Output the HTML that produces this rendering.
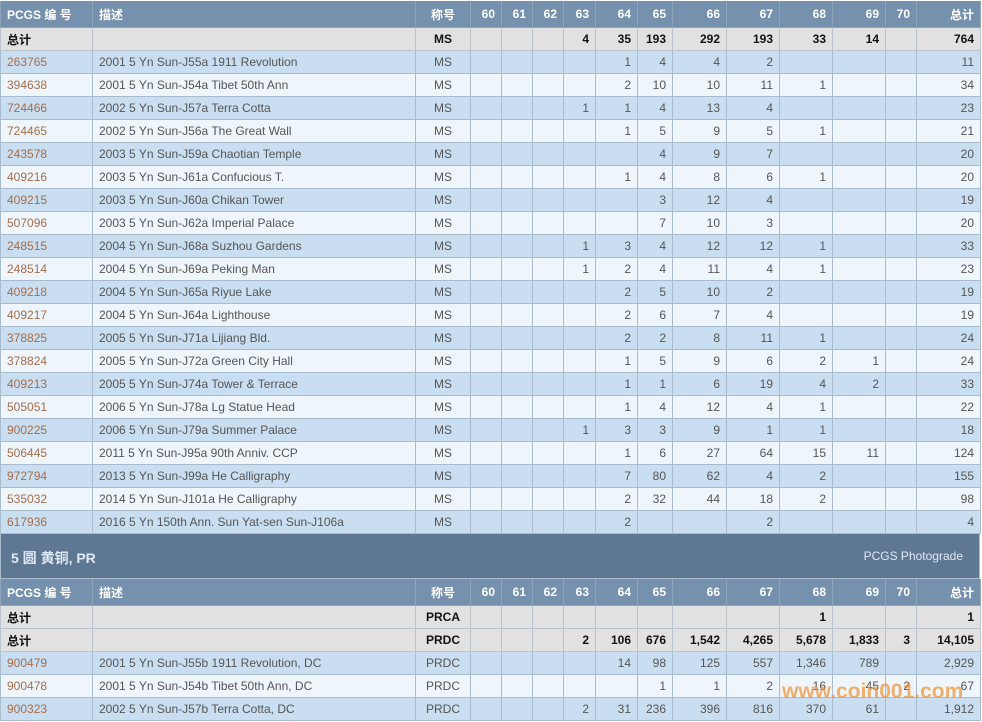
<!DOCTYPE html>
<html><head><meta charset="utf-8"><style>
body{margin:0;width:982px;height:722px;overflow:hidden;background:#fff;font-family:"Liberation Sans","Noto Sans CJK SC",sans-serif;font-size:12px;color:#555}
table{border-collapse:collapse;table-layout:fixed;width:980px;position:absolute;left:0}
td{border:1px solid #a9bccd;padding:0 6px;height:22px;text-align:right;white-space:nowrap;overflow:hidden}
td:nth-child(1),td:nth-child(2){text-align:left}
td:nth-child(3){text-align:center}
tr.h td{background:#7591ad;color:#fff;font-weight:bold;height:26px;border-color:#8ea5bc;border-top:none}
tr.t td{background:#e1e1e1;color:#111;font-weight:bold;border-color:#b9c4ce}
tr.o td{background:#c9def1}
tr.e td{background:#eef5fb}
td.l{color:#a36e4c}
.sec{position:absolute;left:0;top:533px;width:980px;height:46px;background:#5e7793;border:1px solid #a9bccd;box-sizing:border-box}
.sec .a{position:absolute;left:10px;top:14px;color:#dfe9f4;font-weight:bold;font-size:14px}
.sec .b{position:absolute;right:16px;top:15px;color:#dfe9f4;font-size:12px}
.wm{position:absolute;left:782px;top:680px;font-size:21px;font-weight:bold;color:rgba(240,150,60,.75);letter-spacing:0}
</style></head><body>
<table style="top:1px">
<colgroup><col style="width:92px"><col style="width:323px"><col style="width:55px"><col style="width:31px"><col style="width:31px"><col style="width:31px"><col style="width:32px"><col style="width:42px"><col style="width:35px"><col style="width:54px"><col style="width:53px"><col style="width:53px"><col style="width:53px"><col style="width:31px"><col style="width:64px"></colgroup>
<tr class="h"><td>PCGS 编 号</td><td>描述</td><td>称号</td><td>60</td><td>61</td><td>62</td><td>63</td><td>64</td><td>65</td><td>66</td><td>67</td><td>68</td><td>69</td><td>70</td><td>总计</td></tr>
<tr class="t"><td>总计</td><td></td><td>MS</td><td></td><td></td><td></td><td>4</td><td>35</td><td>193</td><td>292</td><td>193</td><td>33</td><td>14</td><td></td><td>764</td></tr>
<tr class="o"><td class="l">263765</td><td>2001 5 Yn Sun-J55a 1911 Revolution</td><td>MS</td><td></td><td></td><td></td><td></td><td>1</td><td>4</td><td>4</td><td>2</td><td></td><td></td><td></td><td>11</td></tr>
<tr class="e"><td class="l">394638</td><td>2001 5 Yn Sun-J54a Tibet 50th Ann</td><td>MS</td><td></td><td></td><td></td><td></td><td>2</td><td>10</td><td>10</td><td>11</td><td>1</td><td></td><td></td><td>34</td></tr>
<tr class="o"><td class="l">724466</td><td>2002 5 Yn Sun-J57a Terra Cotta</td><td>MS</td><td></td><td></td><td></td><td>1</td><td>1</td><td>4</td><td>13</td><td>4</td><td></td><td></td><td></td><td>23</td></tr>
<tr class="e"><td class="l">724465</td><td>2002 5 Yn Sun-J56a The Great Wall</td><td>MS</td><td></td><td></td><td></td><td></td><td>1</td><td>5</td><td>9</td><td>5</td><td>1</td><td></td><td></td><td>21</td></tr>
<tr class="o"><td class="l">243578</td><td>2003 5 Yn Sun-J59a Chaotian Temple</td><td>MS</td><td></td><td></td><td></td><td></td><td></td><td>4</td><td>9</td><td>7</td><td></td><td></td><td></td><td>20</td></tr>
<tr class="e"><td class="l">409216</td><td>2003 5 Yn Sun-J61a Confucious T.</td><td>MS</td><td></td><td></td><td></td><td></td><td>1</td><td>4</td><td>8</td><td>6</td><td>1</td><td></td><td></td><td>20</td></tr>
<tr class="o"><td class="l">409215</td><td>2003 5 Yn Sun-J60a Chikan Tower</td><td>MS</td><td></td><td></td><td></td><td></td><td></td><td>3</td><td>12</td><td>4</td><td></td><td></td><td></td><td>19</td></tr>
<tr class="e"><td class="l">507096</td><td>2003 5 Yn Sun-J62a Imperial Palace</td><td>MS</td><td></td><td></td><td></td><td></td><td></td><td>7</td><td>10</td><td>3</td><td></td><td></td><td></td><td>20</td></tr>
<tr class="o"><td class="l">248515</td><td>2004 5 Yn Sun-J68a Suzhou Gardens</td><td>MS</td><td></td><td></td><td></td><td>1</td><td>3</td><td>4</td><td>12</td><td>12</td><td>1</td><td></td><td></td><td>33</td></tr>
<tr class="e"><td class="l">248514</td><td>2004 5 Yn Sun-J69a Peking Man</td><td>MS</td><td></td><td></td><td></td><td>1</td><td>2</td><td>4</td><td>11</td><td>4</td><td>1</td><td></td><td></td><td>23</td></tr>
<tr class="o"><td class="l">409218</td><td>2004 5 Yn Sun-J65a Riyue Lake</td><td>MS</td><td></td><td></td><td></td><td></td><td>2</td><td>5</td><td>10</td><td>2</td><td></td><td></td><td></td><td>19</td></tr>
<tr class="e"><td class="l">409217</td><td>2004 5 Yn Sun-J64a Lighthouse</td><td>MS</td><td></td><td></td><td></td><td></td><td>2</td><td>6</td><td>7</td><td>4</td><td></td><td></td><td></td><td>19</td></tr>
<tr class="o"><td class="l">378825</td><td>2005 5 Yn Sun-J71a Lijiang Bld.</td><td>MS</td><td></td><td></td><td></td><td></td><td>2</td><td>2</td><td>8</td><td>11</td><td>1</td><td></td><td></td><td>24</td></tr>
<tr class="e"><td class="l">378824</td><td>2005 5 Yn Sun-J72a Green City Hall</td><td>MS</td><td></td><td></td><td></td><td></td><td>1</td><td>5</td><td>9</td><td>6</td><td>2</td><td>1</td><td></td><td>24</td></tr>
<tr class="o"><td class="l">409213</td><td>2005 5 Yn Sun-J74a Tower &amp; Terrace</td><td>MS</td><td></td><td></td><td></td><td></td><td>1</td><td>1</td><td>6</td><td>19</td><td>4</td><td>2</td><td></td><td>33</td></tr>
<tr class="e"><td class="l">505051</td><td>2006 5 Yn Sun-J78a Lg Statue Head</td><td>MS</td><td></td><td></td><td></td><td></td><td>1</td><td>4</td><td>12</td><td>4</td><td>1</td><td></td><td></td><td>22</td></tr>
<tr class="o"><td class="l">900225</td><td>2006 5 Yn Sun-J79a Summer Palace</td><td>MS</td><td></td><td></td><td></td><td>1</td><td>3</td><td>3</td><td>9</td><td>1</td><td>1</td><td></td><td></td><td>18</td></tr>
<tr class="e"><td class="l">506445</td><td>2011 5 Yn Sun-J95a 90th Anniv. CCP</td><td>MS</td><td></td><td></td><td></td><td></td><td>1</td><td>6</td><td>27</td><td>64</td><td>15</td><td>11</td><td></td><td>124</td></tr>
<tr class="o"><td class="l">972794</td><td>2013 5 Yn Sun-J99a He Calligraphy</td><td>MS</td><td></td><td></td><td></td><td></td><td>7</td><td>80</td><td>62</td><td>4</td><td>2</td><td></td><td></td><td>155</td></tr>
<tr class="e"><td class="l">535032</td><td>2014 5 Yn Sun-J101a He Calligraphy</td><td>MS</td><td></td><td></td><td></td><td></td><td>2</td><td>32</td><td>44</td><td>18</td><td>2</td><td></td><td></td><td>98</td></tr>
<tr class="o"><td class="l">617936</td><td>2016 5 Yn 150th Ann. Sun Yat-sen Sun-J106a</td><td>MS</td><td></td><td></td><td></td><td></td><td>2</td><td></td><td></td><td>2</td><td></td><td></td><td></td><td>4</td></tr>
</table>
<div class="sec"><span class="a">5 圆 黄铜, PR</span><span class="b">PCGS Photograde</span></div>
<table style="top:579px">
<colgroup><col style="width:92px"><col style="width:323px"><col style="width:55px"><col style="width:31px"><col style="width:31px"><col style="width:31px"><col style="width:32px"><col style="width:42px"><col style="width:35px"><col style="width:54px"><col style="width:53px"><col style="width:53px"><col style="width:53px"><col style="width:31px"><col style="width:64px"></colgroup>
<tr class="h"><td>PCGS 编 号</td><td>描述</td><td>称号</td><td>60</td><td>61</td><td>62</td><td>63</td><td>64</td><td>65</td><td>66</td><td>67</td><td>68</td><td>69</td><td>70</td><td>总计</td></tr>
<tr class="t"><td>总计</td><td></td><td>PRCA</td><td></td><td></td><td></td><td></td><td></td><td></td><td></td><td></td><td>1</td><td></td><td></td><td>1</td></tr>
<tr class="t"><td>总计</td><td></td><td>PRDC</td><td></td><td></td><td></td><td>2</td><td>106</td><td>676</td><td>1,542</td><td>4,265</td><td>5,678</td><td>1,833</td><td>3</td><td>14,105</td></tr>
<tr class="o"><td class="l">900479</td><td>2001 5 Yn Sun-J55b 1911 Revolution, DC</td><td>PRDC</td><td></td><td></td><td></td><td></td><td>14</td><td>98</td><td>125</td><td>557</td><td>1,346</td><td>789</td><td></td><td>2,929</td></tr>
<tr class="e"><td class="l">900478</td><td>2001 5 Yn Sun-J54b Tibet 50th Ann, DC</td><td>PRDC</td><td></td><td></td><td></td><td></td><td></td><td>1</td><td>1</td><td>2</td><td>16</td><td>45</td><td>2</td><td>67</td></tr>
<tr class="o"><td class="l">900323</td><td>2002 5 Yn Sun-J57b Terra Cotta, DC</td><td>PRDC</td><td></td><td></td><td></td><td>2</td><td>31</td><td>236</td><td>396</td><td>816</td><td>370</td><td>61</td><td></td><td>1,912</td></tr>
</table>
<div class="wm">www.coin001.com</div>
</body></html>
